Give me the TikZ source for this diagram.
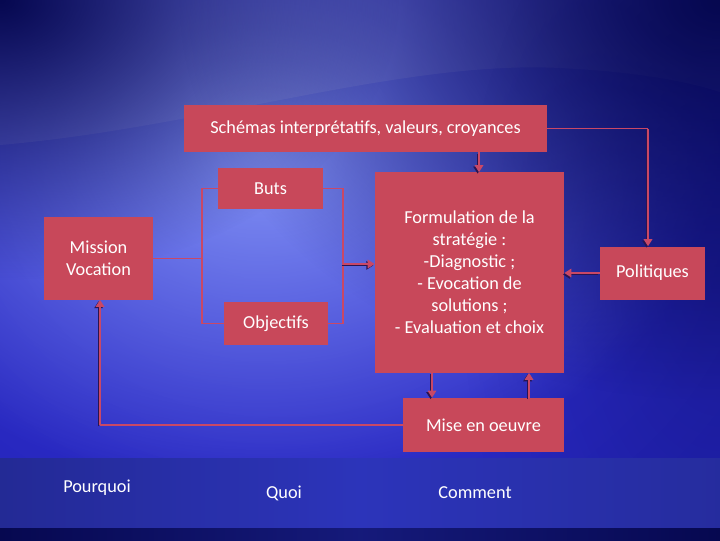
\documentclass[tikz,border=0pt]{standalone}
\usepackage{fontspec}
\setmainfont{Carlito}
\usepackage{tikz}
\usetikzlibrary{arrows.meta,fadings}
\definecolor{rosebox}{HTML}{C8485A}
\definecolor{roseline}{HTML}{C94866}
\definecolor{shadowline}{HTML}{2A1450}
\definecolor{bgdark}{HTML}{1818A6}
\definecolor{bgmid}{HTML}{3434D4}
\definecolor{bglight}{HTML}{8494F4}
\definecolor{bgnavy}{HTML}{060850}
\definecolor{bandblue}{HTML}{2C34BA}
\tikzfading[name=glow,inner color=transparent!0,outer color=transparent!100]

\begin{document}
\begin{tikzpicture}[x=0.025cm,y=-0.025cm,
  box/.style={fill=rosebox,align=center,text=white,inner sep=0pt,font=\fontsize{13}{15.6}\selectfont},
  lbl/.style={text=white,font=\fontsize{13}{15.6}\selectfont},
  link/.style={line width=0.8pt,draw=roseline},
  arr/.style={-{Triangle[length=5pt,width=6pt]},line width=2pt,draw=roseline,
    preaction={draw=shadowline,transform canvas={shift={(-1pt,-1pt)}}}}
]
\useasboundingbox (0,0) rectangle (720,540);
% slide background
\begin{scope}
\clip (0,0) rectangle (720,540);
\fill[bgdark] (0,0) rectangle (720,540);
\fill[bgmid,path fading=glow] (280,200) ellipse [x radius=950,y radius=760];
\fill[bglight,path fading=glow] (260,150) ellipse [x radius=460,y radius=340];
\fill[white,opacity=0.1] (0,0) -- (0,145) .. controls (200,128) and (400,60) .. (560,68) .. controls (640,72) and (690,82) .. (720,92) -- (720,0) -- cycle;
\fill[bgnavy,path fading=glow] (0,0) ellipse [x radius=400,y radius=280];
\fill[bgnavy,path fading=glow] (720,0) ellipse [x radius=540,y radius=400];
\fill[bgnavy,opacity=0.35,path fading=glow] (720,280) ellipse [x radius=260,y radius=440];
\end{scope}
\shade[left color=bandblue!80!black,right color=bandblue!85!black,middle color=bandblue] (0,458) rectangle (720,528);
\shade[left color=bgnavy,right color=bgnavy,middle color=bgnavy!60!bandblue] (0,528) rectangle (720,540);

\node[box,minimum width=9.075cm,minimum height=1.175cm] (schemas) at (365.5,128.5) {Schémas interprétatifs, valeurs, croyances};
\node[box,minimum width=2.6cm,minimum height=1.025cm] (buts) at (270.5,188.5) {Buts};
\node[box,minimum width=2.725cm,minimum height=2.05cm] (mission) at (98.5,258.5) {Mission\\Vocation};
\node[box,minimum width=2.6cm,minimum height=1.075cm] (objectifs) at (276,323.5) {Objectifs};
\node[box,minimum width=4.725cm,minimum height=5cm] (formulation) at (469.5,272.5) {Formulation de la\\stratégie :\\-Diagnostic ;\\- Evocation de\\solutions ;\\- Evaluation et choix};
\node[box,minimum width=2.625cm,minimum height=1.325cm] (politiques) at (652.5,273) {Politiques};
\node[box,minimum width=4cm,minimum height=1.35cm] (mise) at (483.5,425) {Mise en oeuvre};

\node[lbl] (pourquoi) at (97,488) {Pourquoi};
\node[lbl] (quoi) at (284,493) {Quoi};
\node[lbl] (comment) at (475,493) {Comment};

\coordinate (toppol) at (648,128.5);
\coordinate (leftfork) at (202,258.5);
\coordinate (rightfork) at (343,264);
\coordinate (retour) at (100,425);
\coordinate (xdown) at (479,0);
\coordinate (xmisedown) at (432,0);
\coordinate (xmiseup) at (529,0);

\draw[link] (schemas.east) -- (toppol);
\draw[arr] (toppol) -- (toppol |- politiques.north);
\draw[arr] (schemas.south -| xdown) -- (formulation.north -| xdown);
\draw[arr] (politiques.west) -- (politiques.west -| formulation.east);
\draw[link] (mission.east) -- (leftfork);
\draw[link] (buts.west) -| (leftfork) |- (objectifs.west);
\draw[link] (buts.east) -| (rightfork) |- (objectifs.east);
\draw[arr] (rightfork) -- (rightfork -| formulation.west);
\draw[arr] (formulation.south -| xmisedown) -- (mise.north -| xmisedown);
\draw[arr] (mise.north -| xmiseup) -- (formulation.south -| xmiseup);
\draw[link] (mise.west) -- (retour);
\draw[arr] (retour) -- (retour |- mission.south);
\end{tikzpicture}
\end{document}
